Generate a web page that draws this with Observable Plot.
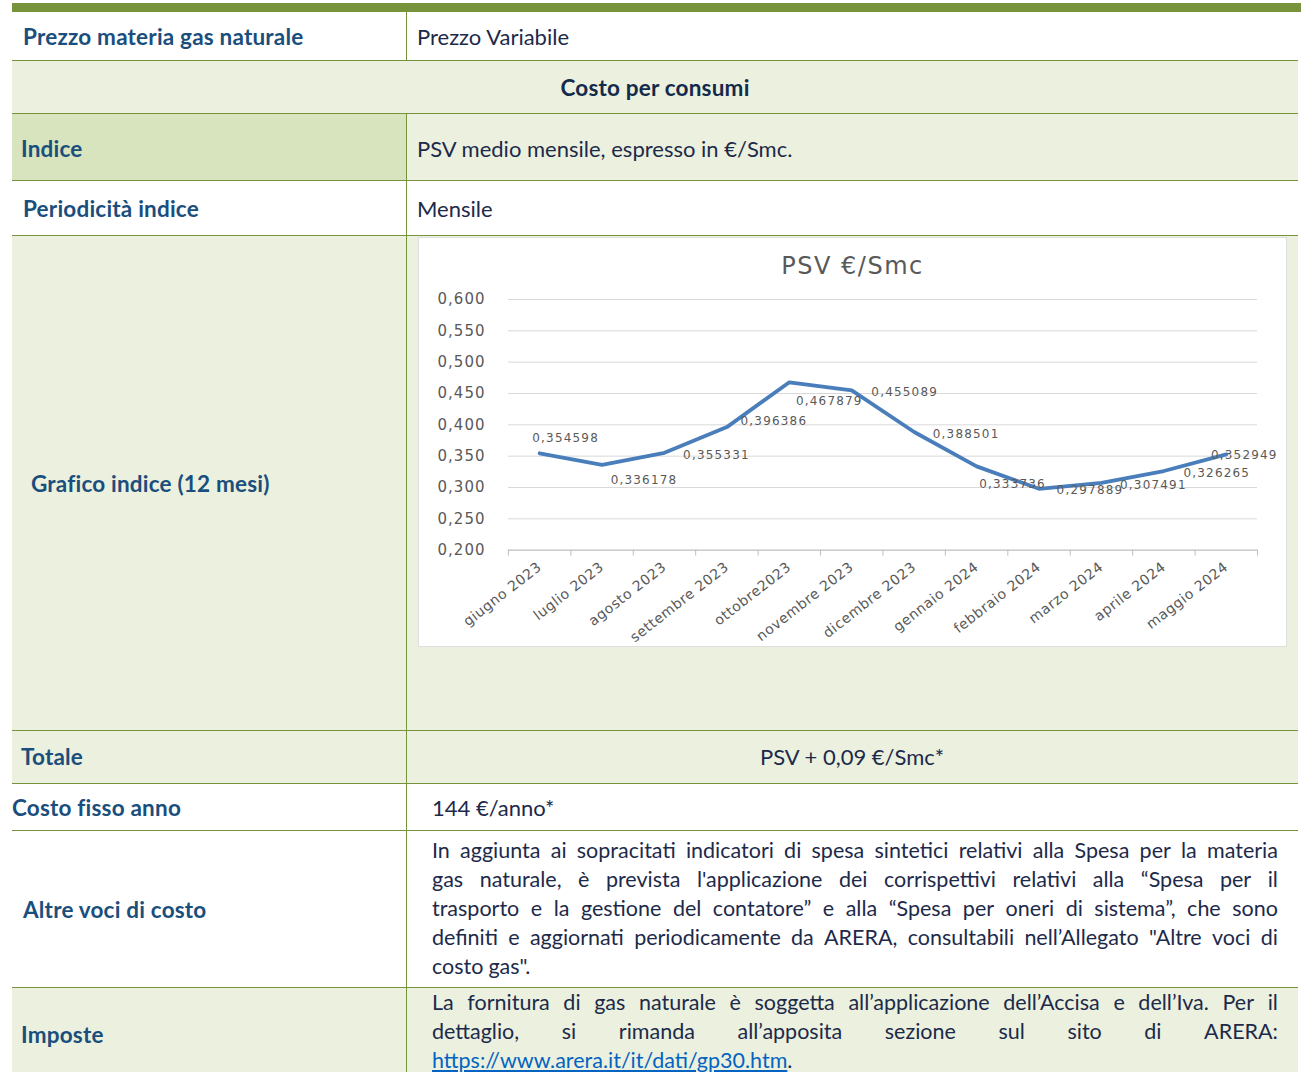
<!DOCTYPE html>
<html><head><meta charset="utf-8">
<script src="https://cdn.jsdelivr.net/npm/d3@7"></script>
<script src="https://cdn.jsdelivr.net/npm/@observablehq/plot@0.6"></script>
<style>
body{margin:0;background:#fff;width:1301px;height:1072px;overflow:hidden;position:relative;font-family:Lato,"Open Sans",sans-serif;}
.box{position:absolute;}
.light{background:#EBF1DE;}
.dark{background:#D7E4BD;}
.hl{position:absolute;left:12px;width:1286px;height:1px;background:#77933C;}
.vl{position:absolute;left:406px;width:1px;background:#77933C;}
.lab{position:absolute;font-weight:700;color:#1A4E7C;font-size:22.5px;line-height:28px;white-space:nowrap;letter-spacing:0.2px;}
.val{position:absolute;color:#1D2A4A;font-size:22px;line-height:28px;white-space:nowrap;}
.para{position:absolute;left:432px;width:846px;color:#1D2A4A;font-size:21.5px;}
.pl{display:flex;justify-content:space-between;height:29px;line-height:29px;white-space:nowrap;}
.pl.last{justify-content:flex-start;}
.pl.last span{margin-right:5px;}
a{color:#0563C1;text-decoration:underline;}
#chartbox{position:absolute;left:418px;top:237px;width:869px;height:410px;background:#fff;border:1px solid #dedede;box-sizing:border-box;}
#ctitle{position:absolute;left:0;top:12px;width:100%;height:32px;line-height:32px;text-align:center;font-family:"DejaVu Sans";font-size:24px;letter-spacing:1.5px;color:#595959;}
#plot{position:absolute;left:-1px;top:39px;}
.vlab text{letter-spacing:1.2px;}
.ytk text{letter-spacing:1px;}
.mlab text{letter-spacing:0.6px;}
</style></head>
<body>
<script>
// ---- chart data ----
const months = ["giugno 2023","luglio 2023","agosto 2023","settembre 2023","ottobre2023","novembre 2023","dicembre 2023","gennaio 2024","febbraio 2024","marzo 2024","aprile 2024","maggio 2024"];
const psv = [0.354598,0.336178,0.355331,0.396386,0.467879,0.455089,0.388501,0.333736,0.297889,0.307491,0.326265,0.352949];
const yTicks = [0.2,0.25,0.3,0.35,0.4,0.45,0.5,0.55,0.6];
// label placement offsets (px), as positioned in the original chart
const labelDx = [26,42,52,47,40,53,52,36,51,52,53,18];
const labelDy = [-15,15,2,-6,19,2,2,18,1,2,2,1];
</script>

<div class="box" style="left:12px;top:3px;width:1289px;height:9px;background:#77933C"></div>
<!-- backgrounds -->
<div class="box light" style="left:12px;top:60px;width:1286px;height:53px"></div>
<div class="box dark" style="left:12px;top:113px;width:394px;height:67px"></div>
<div class="box light" style="left:406px;top:113px;width:892px;height:67px"></div>
<div class="box light" style="left:12px;top:235px;width:1286px;height:548px"></div>
<div class="box light" style="left:12px;top:987px;width:1286px;height:85px"></div>
<!-- lines -->
<div class="hl" style="top:60px"></div>
<div class="hl" style="top:113px"></div>
<div class="hl" style="top:180px"></div>
<div class="hl" style="top:235px"></div>
<div class="hl" style="top:730px"></div>
<div class="hl" style="top:783px"></div>
<div class="hl" style="top:830px"></div>
<div class="hl" style="top:987px"></div>
<div class="vl" style="top:12px;height:48px"></div>
<div class="vl" style="top:113px;height:959px"></div>

<!-- texts -->
<div class="lab" style="left:23px;top:23px">Prezzo materia gas naturale</div>
<div class="val" style="left:417px;top:23px">Prezzo Variabile</div>
<div class="lab" style="left:12px;width:1286px;text-align:center;top:74px;color:#142A4C">Costo per consumi</div>
<div class="lab" style="left:21px;top:135px">Indice</div>
<div class="val" style="left:417px;top:135px">PSV medio mensile, espresso in €/Smc.</div>
<div class="lab" style="left:23px;top:195px">Periodicità indice</div>
<div class="val" style="left:417px;top:195px">Mensile</div>
<div class="lab" style="left:31px;top:470px">Grafico indice (12 mesi)</div>
<div class="lab" style="left:21px;top:743px">Totale</div>
<div class="val" style="left:406px;width:892px;text-align:center;top:743px">PSV + 0,09 €/Smc*</div>
<div class="lab" style="left:12px;top:794px">Costo fisso anno</div>
<div class="val" style="left:432px;top:794px">144 €/anno*</div>
<div class="lab" style="left:23px;top:896px">Altre voci di costo</div>
<div class="lab" style="left:21px;top:1021px">Imposte</div>
<div class="para" id="p1" style="top:836px"></div>
<div class="para" id="p2" style="top:988px"></div>

<div id="chartbox"><div id="ctitle">PSV €/Smc</div><div id="plot"></div></div>

<script>
function fillPara(el, lines, lastHTML) {
  lines.forEach((t, i) => {
    const d = document.createElement("div");
    const last = (i === lines.length - 1) && !lastHTML;
    d.className = "pl" + (last ? " last" : "");
    t.split(" ").forEach(w => { const s = document.createElement("span"); s.textContent = w; d.appendChild(s); });
    el.appendChild(d);
  });
  if (lastHTML) { const d = document.createElement("div"); d.className = "pl last"; d.innerHTML = lastHTML; el.appendChild(d); }
}
fillPara(document.getElementById("p1"), [
  "In aggiunta ai sopracitati indicatori di spesa sintetici relativi alla Spesa per la materia",
  "gas naturale, è prevista l'applicazione dei corrispettivi relativi alla “Spesa per il",
  "trasporto e la gestione del contatore” e alla “Spesa per oneri di sistema”, che sono",
  "definiti e aggiornati periodicamente da ARERA, consultabili nell’Allegato \"Altre voci di",
  "costo gas\"."
]);
fillPara(document.getElementById("p2"), [
  "La fornitura di gas naturale è soggetta all’applicazione dell’Accisa e dell’Iva. Per il",
  "dettaglio, si rimanda all’apposita sezione sul sito di ARERA:"
], '<span style="margin:0"><a>https://www.arera.it/it/dati/gp30.htm</a>.</span>');

const data = psv.map((v, i) => ({i, v, m: months[i]}));
const comma = (d, n) => d.toFixed(n).replace(".", ",");
const bounds = d3.range(months.length + 1).map(k => k - 0.5);
const gray = "#595959";

const chart = Plot.plot({
  width: 869, height: 370,
  marginLeft: 90, marginRight: 29, marginTop: 22, marginBottom: 97,
  x: {domain: [-0.5, months.length - 0.5], axis: null},
  y: {domain: [0.2, 0.6], axis: null},
  style: {background: "transparent", fontFamily: "DejaVu Sans", color: gray, overflow: "visible"},
  marks: [
    Plot.ruleY(yTicks, {stroke: "#d9d9d9", strokeWidth: 1}),
    Plot.ruleY([yTicks[0]], {stroke: "#bfbfbf", strokeWidth: 1}),
    Plot.axisX(bounds, {tickFormat: () => "", tickSize: 6, stroke: "#bfbfbf", strokeOpacity: 1, label: null}),
    Plot.text(yTicks, {x: -0.5, y: d => d, text: d => comma(d, 3), textAnchor: "end", dx: -23, fontSize: 15, fill: gray, className: "ytk"}),
    Plot.line(data, {x: "i", y: "v", stroke: "#4A7EBB", strokeWidth: 3.8, strokeLinejoin: "round"}),
    ...data.map((d, i) => Plot.text([d], {x: "i", y: "v", text: e => comma(e.v, 6), dx: labelDx[i], dy: labelDy[i], fontSize: 12, fill: gray, className: "vlab"})),
    Plot.text(data, {x: "i", y: yTicks[0], text: "m", rotate: -38, textAnchor: "end", lineAnchor: "middle", dy: 15, dx: 0, fontSize: 14, fill: gray, className: "mlab"})
  ]
});
document.getElementById("plot").appendChild(chart);
</script>
</body></html>
